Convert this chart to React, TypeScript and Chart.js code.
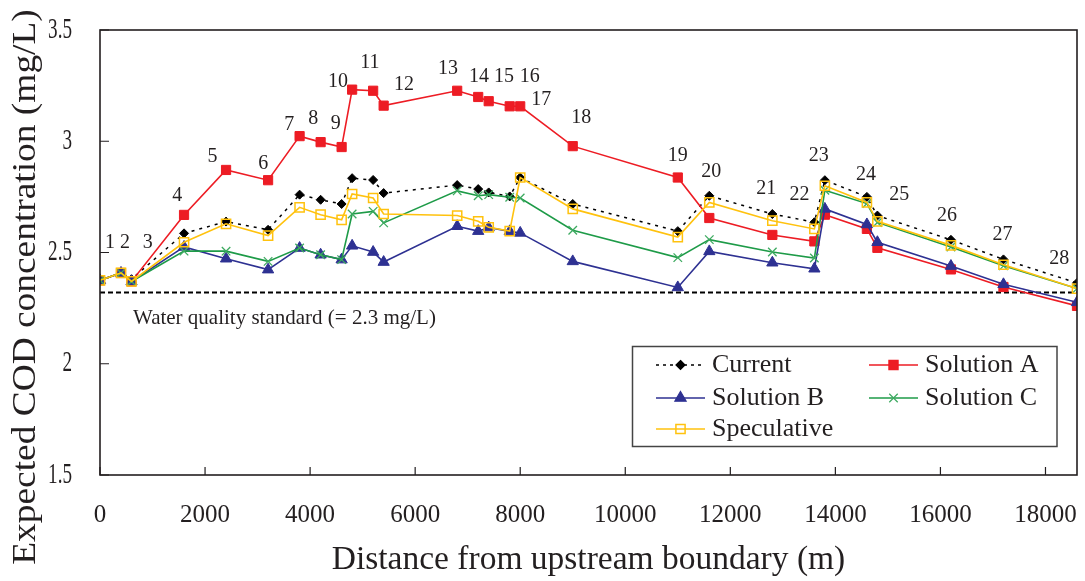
import React, { useEffect, useRef } from 'react';
import { Chart, registerables } from 'chart.js';

Chart.register(...registerables);

// ---- Data ----
const distance = [0, 400, 600, 1600, 2400, 3200, 3800, 4200, 4600, 4800, 5200, 5400, 6800, 7200, 7400, 7800, 8000, 9000, 11000, 11600, 12800, 13600, 13800, 14600, 14800, 16200, 17200, 18600];

const current = [2.375, 2.408, 2.38, 2.586, 2.639, 2.602, 2.76, 2.737, 2.718, 2.834, 2.826, 2.767, 2.803, 2.785, 2.77, 2.752, 2.837, 2.718, 2.596, 2.755, 2.673, 2.636, 2.825, 2.75, 2.666, 2.557, 2.469, 2.363];
const solutionA = [2.375, 2.408, 2.37, 2.669, 2.871, 2.825, 3.023, 2.996, 2.974, 3.232, 3.227, 3.16, 3.227, 3.199, 3.18, 3.157, 3.157, 2.978, 2.837, 2.655, 2.579, 2.55, 2.67, 2.606, 2.521, 2.424, 2.345, 2.26];
const solutionB = [2.375, 2.408, 2.37, 2.525, 2.472, 2.423, 2.52, 2.49, 2.468, 2.53, 2.502, 2.457, 2.618, 2.596, 2.612, 2.595, 2.588, 2.46, 2.343, 2.505, 2.454, 2.427, 2.696, 2.626, 2.546, 2.439, 2.357, 2.276];
const solutionC = [2.375, 2.408, 2.37, 2.506, 2.506, 2.46, 2.52, 2.49, 2.468, 2.673, 2.685, 2.633, 2.777, 2.755, 2.76, 2.748, 2.745, 2.6, 2.477, 2.558, 2.502, 2.475, 2.78, 2.72, 2.635, 2.525, 2.44, 2.338];
const speculative = [2.375, 2.408, 2.37, 2.546, 2.629, 2.576, 2.703, 2.67, 2.647, 2.763, 2.745, 2.673, 2.666, 2.64, 2.613, 2.596, 2.837, 2.696, 2.569, 2.725, 2.643, 2.606, 2.8, 2.725, 2.64, 2.532, 2.445, 2.338];

const seriesNames = ['Current', 'Solution A', 'Solution B', 'Solution C', 'Speculative'];

const xTickValues = [0, 2000, 4000, 6000, 8000, 10000, 12000, 14000, 16000, 18000];
const xTickLabels = ['0', '2000', '4000', '6000', '8000', '10000', '12000', '14000', '16000', '18000'];
const yTickValues = [1.5, 2, 2.5, 3, 3.5];
const yTickLabels = ['1.5', '2', '2.5', '3', '3.5'];

// Station number annotations (anchor in data units: metres, mg/L)
const stationLabels = ['1', '2', '3', '4', '5', '6', '7', '8', '9', '10', '11', '12', '13', '14', '15', '16', '17', '18', '19', '20', '21', '22', '23', '24', '25', '26', '27', '28'];
const stationLabelX = [190, 476, 907, 1470, 2144, 3106, 3601, 4058, 4489, 4533, 5136, 5789, 6626, 7215, 7691, 8180, 8402, 9163, 11001, 11636, 12682, 13316, 13683, 14585, 15218, 16125, 17183, 18261];
const stationLabelY = [2.544, 2.544, 2.544, 2.753, 2.93, 2.9, 3.072, 3.102, 3.08, 3.267, 3.352, 3.252, 3.327, 3.292, 3.292, 3.292, 3.187, 3.107, 2.937, 2.862, 2.788, 2.758, 2.933, 2.848, 2.758, 2.663, 2.578, 2.474];

const standardValue = 2.32;
const standardText = 'Water quality standard (= 2.3 mg/L)';
const standardTextAt = { x: 628, y: 2.205 };

const xTitle = 'Distance from upstream boundary (m)';
const yTitle = 'Expected COD concentration (mg/L)';

const FONT = '"Liberation Serif", "Times New Roman", serif';
const INK = '#231F20';
const RED = '#ED1C24';
const BLUE = '#2E3192';
const GREEN = '#1E9B48';
const GREEN_PT = '#3DAA60';
const YELLOW = '#FFC20E';

const toXY = (ys: number[]) => distance.map((x, i) => ({ x, y: ys[i] }));

function drawMarker(ctx: CanvasRenderingContext2D, style: string, x: number, y: number, r: number, fill: string, stroke: string, lw: number) {
  ctx.save();
  ctx.lineWidth = lw;
  ctx.strokeStyle = stroke;
  ctx.fillStyle = fill;
  ctx.setLineDash([]);
  ctx.beginPath();
  if (style === 'rect') {
    const s = Math.SQRT1_2 * r;
    ctx.rect(x - s, y - s, 2 * s, 2 * s);
  } else if (style === 'rectRot') {
    ctx.moveTo(x, y - r); ctx.lineTo(x + r, y); ctx.lineTo(x, y + r); ctx.lineTo(x - r, y); ctx.closePath();
  } else if (style === 'triangle') {
    for (let k = 0; k < 3; k++) {
      const a = k * 2 * Math.PI / 3;
      const px = x + Math.sin(a) * r, py = y - Math.cos(a) * r;
      if (k === 0) ctx.moveTo(px, py); else ctx.lineTo(px, py);
    }
    ctx.closePath();
  } else if (style === 'crossRot') {
    const s = Math.SQRT1_2 * r;
    ctx.moveTo(x - s, y - s); ctx.lineTo(x + s, y + s);
    ctx.moveTo(x + s, y - s); ctx.lineTo(x - s, y + s);
    ctx.stroke();
    ctx.restore();
    return;
  }
  ctx.fill();
  ctx.stroke();
  ctx.restore();
}

const decorPlugin = {
  id: 'decor',
  afterDraw(chart: any) {
    const { ctx, chartArea } = chart;
    const { left, right, top, bottom } = chartArea;
    const xs = chart.scales.x;
    const ys = chart.scales.y;
    ctx.save();
    // frame
    ctx.strokeStyle = INK;
    ctx.lineWidth = 1.6;
    ctx.setLineDash([]);
    ctx.strokeRect(left, top, right - left, bottom - top);
    // inward ticks
    ctx.lineWidth = 1.2;
    ctx.beginPath();
    xs.ticks.forEach((t: any) => {
      const px = xs.getPixelForValue(t.value);
      ctx.moveTo(px, bottom); ctx.lineTo(px, bottom - 8);
    });
    ys.ticks.forEach((t: any) => {
      const py = ys.getPixelForValue(t.value);
      ctx.moveTo(left, py); ctx.lineTo(left + 9, py);
    });
    ctx.stroke();
    // y tick labels (condensed)
    ctx.fillStyle = INK;
    ctx.font = `29px ${FONT}`;
    ctx.textAlign = 'right';
    ctx.textBaseline = 'middle';
    yTickValues.forEach((v, i) => {
      const py = ys.getPixelForValue(v);
      ctx.save();
      ctx.translate(72, py);
      ctx.scale(0.66, 1);
      ctx.fillText(yTickLabels[i], 0, 0);
      ctx.restore();
    });
    // y title
    ctx.save();
    ctx.translate(26, 287);
    ctx.rotate(-Math.PI / 2);
    ctx.scale(1.1, 1);
    ctx.font = `34px ${FONT}`;
    ctx.textAlign = 'center';
    ctx.textBaseline = 'middle';
    ctx.fillText(yTitle, 0, 0);
    ctx.restore();
    // station labels
    ctx.font = `20px ${FONT}`;
    ctx.textAlign = 'center';
    ctx.textBaseline = 'middle';
    stationLabels.forEach((lab, i) => {
      ctx.fillText(lab, xs.getPixelForValue(stationLabelX[i]), ys.getPixelForValue(stationLabelY[i]));
    });
    // standard text
    ctx.font = `21px ${FONT}`;
    ctx.textAlign = 'left';
    ctx.fillText(standardText, xs.getPixelForValue(standardTextAt.x), ys.getPixelForValue(standardTextAt.y));
    // legend
    const lx = 632.5, ly = 346.5, lw = 424.5, lh = 100;
    ctx.fillStyle = '#fff';
    ctx.fillRect(lx, ly, lw, lh);
    ctx.strokeStyle = '#444';
    ctx.lineWidth = 1.5;
    ctx.strokeRect(lx, ly, lw, lh);
    const items = [
      { name: seriesNames[0], col: 0, row: 0, color: '#000', dash: [3, 4], style: 'rectRot', r: 4.5, fill: '#000', stroke: '#000' },
      { name: seriesNames[1], col: 1, row: 0, color: RED, dash: [], style: 'rect', r: 6.5, fill: RED, stroke: RED },
      { name: seriesNames[2], col: 0, row: 1, color: BLUE, dash: [], style: 'triangle', r: 6.5, fill: BLUE, stroke: BLUE },
      { name: seriesNames[3], col: 1, row: 1, color: GREEN, dash: [], style: 'crossRot', r: 6, fill: GREEN_PT, stroke: GREEN_PT },
      { name: seriesNames[4], col: 0, row: 2, color: YELLOW, dash: [], style: 'rect', r: 6.5, fill: 'rgba(0,0,0,0)', stroke: YELLOW },
    ];
    const colX = [656, 869];
    const rowY = [365, 398, 429];
    ctx.font = `26px ${FONT}`;
    ctx.textAlign = 'left';
    ctx.textBaseline = 'middle';
    items.forEach((it) => {
      const x0 = colX[it.col], x1 = x0 + 49, yy = rowY[it.row];
      ctx.save();
      ctx.strokeStyle = it.color;
      ctx.lineWidth = 1.5;
      ctx.setLineDash(it.dash);
      ctx.beginPath(); ctx.moveTo(x0, yy); ctx.lineTo(x1, yy); ctx.stroke();
      ctx.restore();
      drawMarker(ctx, it.style, (x0 + x1) / 2, yy, it.r, it.fill, it.stroke, it.style === 'rect' && it.fill !== it.stroke ? 1.5 : 1.2);
      ctx.fillStyle = INK;
      ctx.fillText(it.name, x1 + 7, yy);
    });
    ctx.restore();
  },
};

export default function App() {
  const ref = useRef<HTMLCanvasElement | null>(null);
  useEffect(() => {
    if (!ref.current) return;
    const chart = new Chart(ref.current, {
      type: 'line',
      data: {
        datasets: [
          {
            label: seriesNames[4], data: toXY(speculative), order: 0,
            borderColor: YELLOW, borderWidth: 1.6, pointStyle: 'rect', pointRadius: 6.5,
            pointBackgroundColor: 'rgba(0,0,0,0)', pointBorderColor: YELLOW, pointBorderWidth: 1.5,
          },
          {
            label: seriesNames[3], data: toXY(solutionC), order: 1,
            borderColor: GREEN, borderWidth: 1.6, pointStyle: 'crossRot', pointRadius: 6,
            pointBackgroundColor: GREEN_PT, pointBorderColor: GREEN_PT, pointBorderWidth: 1.3,
          },
          {
            label: seriesNames[2], data: toXY(solutionB), order: 2,
            borderColor: BLUE, borderWidth: 1.6, pointStyle: 'triangle', pointRadius: 6.5,
            pointBackgroundColor: BLUE, pointBorderColor: BLUE, pointBorderWidth: 1,
          },
          {
            label: seriesNames[1], data: toXY(solutionA), order: 3,
            borderColor: RED, borderWidth: 1.6, pointStyle: 'rect', pointRadius: 6.5,
            pointBackgroundColor: RED, pointBorderColor: RED, pointBorderWidth: 1,
          },
          {
            label: seriesNames[0], data: toXY(current), order: 4,
            borderColor: '#000', borderWidth: 1.5, borderDash: [3, 5], pointStyle: 'rectRot', pointRadius: 4.5,
            pointBackgroundColor: '#000', pointBorderColor: '#000', pointBorderWidth: 1,
          },
          {
            label: 'Standard', data: [{ x: 0, y: standardValue }, { x: 18600, y: standardValue }], order: 5,
            borderColor: '#000', borderWidth: 2, borderDash: [5, 3], pointRadius: 0,
          },
        ],
      },
      options: {
        responsive: false,
        animation: false,
        events: [],
        layout: { padding: { top: 30, right: 7, left: 0, bottom: 0 } },
        plugins: { legend: { display: false }, tooltip: { enabled: false } },
        elements: { line: { tension: 0 } },
        scales: {
          x: {
            type: 'linear', min: 0, max: 18600,
            grid: { display: false, drawTicks: false },
            border: { display: false },
            afterBuildTicks: (s: any) => { s.ticks = xTickValues.map((v) => ({ value: v })); },
            ticks: {
              autoSkip: false, maxRotation: 0, padding: 25, color: INK, font: { family: FONT, size: 25 },
              callback: (v: any) => { const i = xTickValues.indexOf(Number(v)); return i >= 0 ? xTickLabels[i] : ''; },
            },
            title: { display: true, text: xTitle, color: INK, font: { family: FONT, size: 33.5 }, padding: { top: 0, bottom: 1 } },
            afterFit: (s: any) => { s.height = 106; s.paddingLeft = 0; s.paddingRight = 0; },
          },
          y: {
            type: 'linear', min: 1.5, max: 3.5,
            grid: { display: false, drawTicks: false },
            border: { display: false },
            afterBuildTicks: (s: any) => { s.ticks = yTickValues.map((v) => ({ value: v })); },
            ticks: { display: false },
            afterFit: (s: any) => { s.width = 100; s.paddingTop = 0; s.paddingBottom = 0; },
          },
        },
      },
      plugins: [decorPlugin],
    } as any);
    return () => chart.destroy();
  }, []);
  return (
    <div style={{ position: 'absolute', left: 0, top: 0, width: 1085, height: 581, background: '#fff' }}>
      <canvas ref={ref} width={1085} height={581} />
    </div>
  );
}
